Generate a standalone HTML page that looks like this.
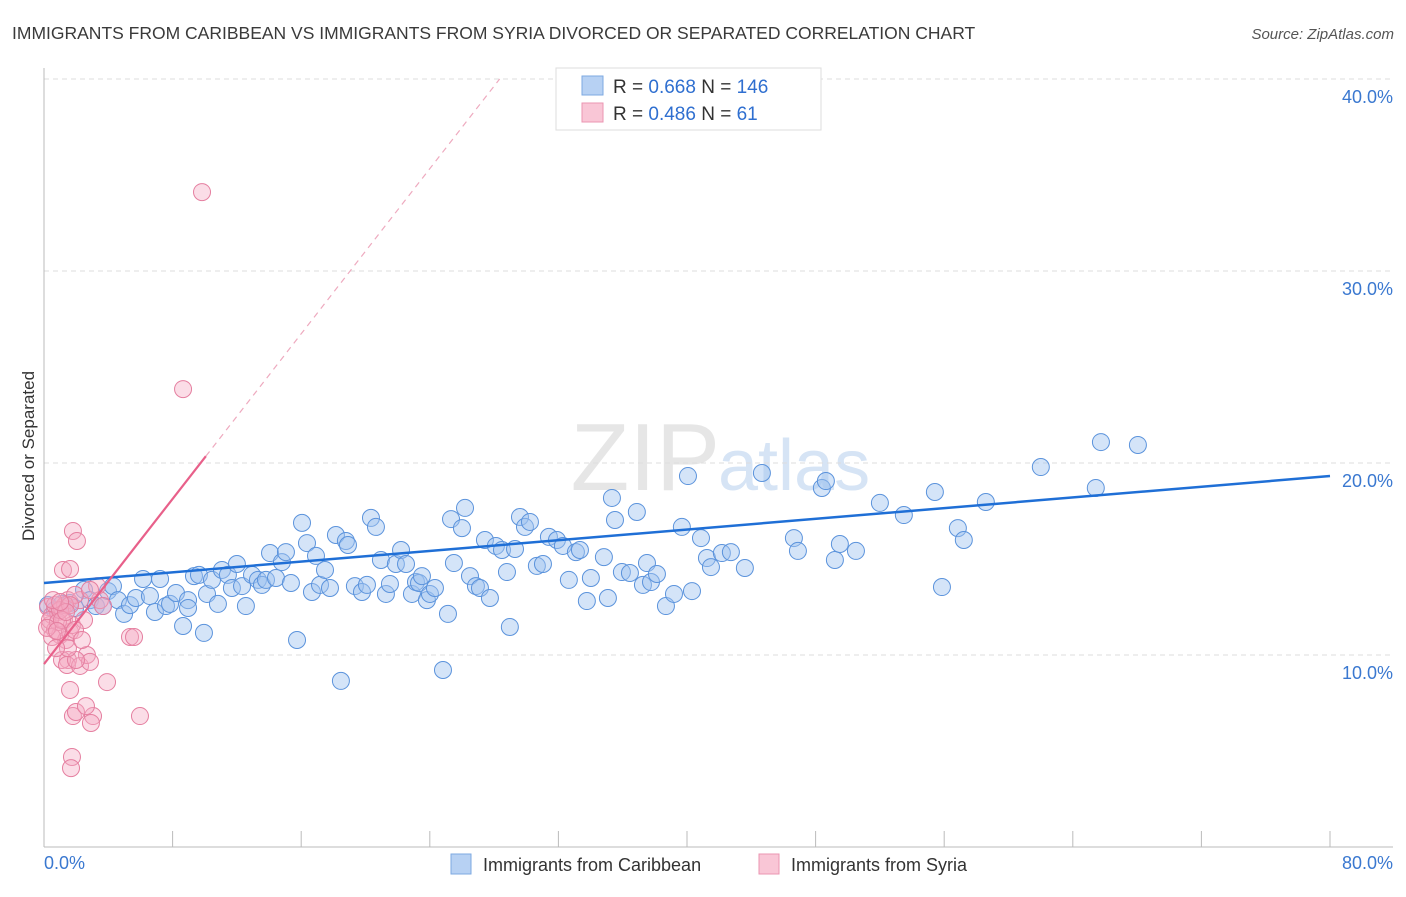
<!DOCTYPE html>
<html><head><meta charset="utf-8"><style>
body{margin:0;background:#fff;font-family:"Liberation Sans",sans-serif;}
svg text{font-family:"Liberation Sans",sans-serif;}
</style></head><body>
<svg id="chart" width="1406" height="892" viewBox="0 0 1406 892" xmlns="http://www.w3.org/2000/svg">
<text x="12" y="39" font-size="17.5" fill="#3a3a3a">IMMIGRANTS FROM CARIBBEAN VS IMMIGRANTS FROM SYRIA DIVORCED OR SEPARATED CORRELATION CHART</text>
<text x="1394" y="39" font-size="15" fill="#555" font-style="italic" text-anchor="end">Source: ZipAtlas.com</text>
<text x="720" y="490" font-size="96" fill="#e6e6e6" text-anchor="end" font-family="Liberation Serif">ZIP</text>
<text x="718" y="490" font-size="72" fill="#d6e4f5">atlas</text>
<g id="grid"></g>
<g id="axes"></g>
<g id="pts"></g>
<g id="lines"></g>
<text transform="translate(34,456) rotate(-90)" font-size="17" fill="#333" text-anchor="middle">Divorced or Separated</text>
<text x="44" y="869" font-size="18" fill="#3a78d0">0.0%</text>
<text x="1393" y="869" font-size="18" fill="#3a78d0" text-anchor="end">80.0%</text>
<g>
<rect x="556" y="68" width="265" height="62" fill="#fff" stroke="#ddd"/>
<rect x="582" y="76" width="21" height="19" fill="#b7d1f3" stroke="#7ea9e2"/>
<rect x="582" y="103" width="21" height="19" fill="#f9c6d6" stroke="#eb95b2"/>
<text x="613" y="93" font-size="19" fill="#333">R = <tspan fill="#2f6fd0">0.668</tspan>   N = <tspan fill="#2f6fd0">146</tspan></text>
<text x="613" y="120" font-size="19" fill="#333">R = <tspan fill="#2f6fd0">0.486</tspan>   N = <tspan fill="#2f6fd0">  61</tspan></text>
</g>
<g>
<rect x="451" y="854" width="20" height="20" fill="#b7d1f3" stroke="#7ea9e2"/>
<text x="483" y="871" font-size="18" fill="#333">Immigrants from Caribbean</text>
<rect x="759" y="854" width="20" height="20" fill="#f9c6d6" stroke="#eb95b2"/>
<text x="791" y="871" font-size="18" fill="#333">Immigrants from Syria</text>
</g>
</svg>
<script>
const yTicks=[10,20,30,40];
const yTickLabels=["10.0%","20.0%","30.0%","40.0%"];
const blueX=[0.25,0.68,1.12,1.62,1.93,2.49,2.86,3.23,3.67,3.98,4.29,4.60,4.98,5.35,5.72,6.16,6.59,6.90,7.22,7.59,7.84,8.21,8.96,8.65,8.96,9.33,9.64,9.95,10.14,10.45,10.82,11.07,11.44,11.69,12.00,12.32,12.56,12.94,13.31,13.56,13.81,14.06,14.43,14.80,15.05,15.36,15.74,16.05,16.36,16.67,16.92,17.17,17.48,17.79,18.16,18.47,18.78,18.91,19.34,19.78,20.09,20.34,20.65,20.96,21.27,21.52,21.89,22.21,22.52,22.89,23.14,23.33,23.51,23.82,24.01,24.32,24.82,25.13,25.32,25.50,26.00,26.19,26.50,26.87,27.12,27.43,27.74,28.11,28.49,28.80,28.98,29.30,29.61,29.92,30.23,30.66,31.04,31.41,31.91,32.28,32.65,33.09,33.34,33.77,34.02,34.83,35.08,35.33,35.52,35.95,36.45,36.88,37.26,37.51,37.76,38.13,38.69,39.19,39.68,40.06,40.31,40.87,41.24,41.49,42.17,42.73,43.60,44.66,46.65,46.90,48.39,48.64,49.20,49.51,50.51,52.00,53.49,55.42,55.86,56.85,57.22,58.59,62.01,65.43,65.75,68.05];
const blueY=[12.60,12.34,12.66,12.71,12.45,13.39,12.86,12.55,12.55,13.33,13.59,12.86,12.14,12.60,12.97,13.96,13.07,12.24,13.96,12.55,12.66,13.23,12.86,11.51,12.45,14.11,14.17,11.15,13.18,13.91,12.66,14.43,14.17,13.49,14.74,13.59,12.55,14.17,13.91,13.65,13.91,15.31,14.01,14.84,15.36,13.75,10.78,16.88,15.83,13.28,15.16,13.65,14.43,13.49,16.25,8.65,15.94,15.73,13.59,13.28,13.65,17.14,16.67,14.95,13.18,13.70,14.74,15.47,14.74,13.18,13.80,13.75,14.11,12.86,13.18,13.49,9.22,12.14,17.08,14.79,16.61,17.66,14.11,13.59,13.49,15.99,12.97,15.68,15.47,14.32,11.46,15.52,17.19,16.67,16.93,14.64,14.74,16.15,15.99,15.68,13.91,15.36,15.47,12.81,14.01,15.10,12.97,18.18,17.03,14.32,14.27,17.45,13.65,14.79,13.80,14.22,12.55,13.18,16.67,19.32,13.33,16.09,15.05,14.58,15.31,15.36,14.53,19.48,16.09,15.42,18.70,19.06,14.95,15.78,15.42,17.92,17.29,18.49,13.54,16.61,15.99,17.97,19.79,18.70,21.09,20.94];
const pinkX=[0.25,0.37,0.50,0.68,0.87,1.00,1.12,1.24,1.37,1.49,1.62,1.74,1.49,1.18,1.62,1.80,2.05,1.12,1.43,1.62,1.80,1.99,2.24,2.49,2.67,2.86,3.30,3.48,3.67,3.92,5.35,5.60,5.97,8.65,9.83,1.74,1.68,3.05,2.61,2.92,1.99,2.24,0.68,0.37,0.87,0.50,1.93,1.31,1.00,0.19,0.56,1.62,1.12,1.37,2.86,1.93,1.49,2.36,0.75,1.00,0.81];
const pinkY=[12.50,11.56,12.08,11.30,12.24,11.04,12.45,11.82,10.78,9.74,11.20,11.56,12.86,14.43,14.48,16.46,15.94,9.74,9.48,8.18,6.82,7.03,9.43,11.82,10.00,9.64,13.59,12.86,12.55,8.59,10.94,10.94,6.82,23.85,34.11,4.69,4.11,6.82,7.34,6.46,9.74,12.86,12.60,11.82,11.72,10.94,13.13,12.60,12.34,11.41,12.86,12.60,11.82,12.24,13.39,11.30,10.36,10.78,10.36,12.76,11.25];
const blueTrend=[13.75,19.32];
const pinkTrend=[9.53,1.075];
const X0=44,X1=1330,Y0=847,PPY=19.2;
const sx=v=>X0+(v/80)*(X1-X0);
const sy=v=>Y0-v*PPY;
const NS="http://www.w3.org/2000/svg";
function mk(tag,attrs,parent){const e=document.createElementNS(NS,tag);for(const k in attrs)e.setAttribute(k,attrs[k]);parent.appendChild(e);return e;}
const grid=document.getElementById('grid'),axes=document.getElementById('axes'),pts=document.getElementById('pts'),lines=document.getElementById('lines');
yTicks.forEach((t,i)=>{
 const l=mk('line',{x1:44,x2:1393,y1:sy(t),y2:sy(t),stroke:'#ddd','stroke-dasharray':'5,4'},grid);
 
 
 const tx=mk('text',{x:1393,y:sy(t)+24,'font-size':18,fill:'#3a78d0','text-anchor':'end'},axes);
 tx.textContent=yTickLabels[i];
 
 
});
const ya=mk('line',{x1:44,x2:44,y1:68,y2:847,stroke:'#bbb'},axes);


const xa=mk('line',{x1:44,x2:1393,y1:847,y2:847,stroke:'#bbb'},axes);


for(let i=0;i<=10;i++){
 const t=mk('line',{x1:sx(i*8),x2:sx(i*8),y1:831,y2:847,stroke:'#bbb'},axes);
 
 
}
blueX.forEach((x,i)=>{
 const c=mk('circle',{cx:sx(x),cy:sy(blueY[i]),r:8.5,fill:'rgba(160,196,240,0.45)',stroke:'#5b93dc','stroke-width':1},pts);
 
 
});
pinkX.forEach((x,i)=>{
 const c=mk('circle',{cx:sx(x),cy:sy(pinkY[i]),r:8.5,fill:'rgba(245,170,195,0.4)',stroke:'#e57fa0','stroke-width':1},pts);
 
 
});
const bl=mk('line',{x1:sx(0),y1:sy(blueTrend[0]),x2:sx(80),y2:sy(blueTrend[1]),stroke:'#1f6fd6','stroke-width':2.5},lines);


const pEnd=10.07, pDash=(40-pinkTrend[0])/pinkTrend[1];
const pl=mk('line',{x1:sx(0),y1:sy(pinkTrend[0]),x2:sx(pEnd),y2:sy(pinkTrend[0]+pinkTrend[1]*pEnd),stroke:'#e8608a','stroke-width':2.2},lines);


const pd=mk('line',{x1:sx(pEnd),y1:sy(pinkTrend[0]+pinkTrend[1]*pEnd),x2:sx(pDash),y2:sy(40),stroke:'#eeaabf','stroke-width':1.2,'stroke-dasharray':'6,5'},lines);


</script>
</body></html>
